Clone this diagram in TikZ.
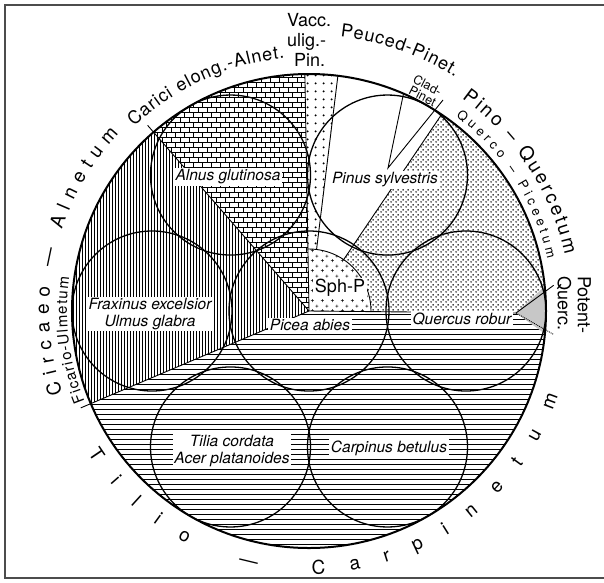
\documentclass[tikz,border=0pt]{standalone}
\usepackage{fontspec}
\setmainfont{TeX Gyre Heros}
\usetikzlibrary{patterns, decorations.text}

% ---- hatchings of the communities ----
\pgfdeclarepatternformonly{hlines}{\pgfqpoint{-1pt}{-1pt}}{\pgfqpoint{6pt}{6pt}}{\pgfqpoint{5pt}{5pt}}{%
  \pgfsetlinewidth{0.7pt}%
  \pgfpathmoveto{\pgfqpoint{-1pt}{2.5pt}}\pgfpathlineto{\pgfqpoint{6pt}{2.5pt}}%
  \pgfusepath{stroke}}
\pgfdeclarepatternformonly{vlines}{\pgfqpoint{-1pt}{-1pt}}{\pgfqpoint{4pt}{4pt}}{\pgfqpoint{3pt}{3pt}}{%
  \pgfsetlinewidth{0.4pt}%
  \pgfpathmoveto{\pgfqpoint{1.5pt}{-1pt}}\pgfpathlineto{\pgfqpoint{1.5pt}{4pt}}%
  \pgfusepath{stroke}}
\pgfdeclarepatternformonly{brickwall}{\pgfqpoint{-1pt}{-1pt}}{\pgfqpoint{10pt}{11pt}}{\pgfqpoint{9pt}{10pt}}{%
  \pgfsetlinewidth{0.5pt}%
  \pgfpathmoveto{\pgfqpoint{-1pt}{0pt}}\pgfpathlineto{\pgfqpoint{10pt}{0pt}}%
  \pgfpathmoveto{\pgfqpoint{-1pt}{5pt}}\pgfpathlineto{\pgfqpoint{10pt}{5pt}}%
  \pgfpathmoveto{\pgfqpoint{0pt}{0pt}}\pgfpathlineto{\pgfqpoint{0pt}{5pt}}%
  \pgfpathmoveto{\pgfqpoint{4.5pt}{5pt}}\pgfpathlineto{\pgfqpoint{4.5pt}{10pt}}%
  \pgfusepath{stroke}}
\pgfdeclarepatternformonly{bigdots}{\pgfqpoint{0pt}{0pt}}{\pgfqpoint{8pt}{8pt}}{\pgfqpoint{8pt}{8pt}}{%
  \pgfpathcircle{\pgfqpoint{4pt}{4pt}}{1.2pt}\pgfusepath{fill}}
\pgfdeclarepatternformonly{finedots}{\pgfqpoint{0pt}{0pt}}{\pgfqpoint{5pt}{5pt}}{\pgfqpoint{5pt}{5pt}}{%
  \pgfpathcircle{\pgfqpoint{1.25pt}{1.25pt}}{0.95pt}%
  \pgfpathcircle{\pgfqpoint{3.75pt}{3.75pt}}{0.95pt}\pgfusepath{fill}}
\pgfdeclarepatternformonly{pluses}{\pgfqpoint{0pt}{0pt}}{\pgfqpoint{10pt}{10pt}}{\pgfqpoint{10pt}{10pt}}{%
  \pgfsetlinewidth{0.6pt}%
  \pgfpathmoveto{\pgfqpoint{0.9pt}{2.5pt}}\pgfpathlineto{\pgfqpoint{4.1pt}{2.5pt}}%
  \pgfpathmoveto{\pgfqpoint{2.5pt}{0.9pt}}\pgfpathlineto{\pgfqpoint{2.5pt}{4.1pt}}%
  \pgfpathmoveto{\pgfqpoint{5.9pt}{7.5pt}}\pgfpathlineto{\pgfqpoint{9.1pt}{7.5pt}}%
  \pgfpathmoveto{\pgfqpoint{7.5pt}{5.9pt}}\pgfpathlineto{\pgfqpoint{7.5pt}{9.1pt}}%
  \pgfusepath{stroke}}

\newcommand{\arctag}{\fontsize{19}{22}\selectfont}
\newcommand{\arcmid}{\fontsize{18}{21}\selectfont}
\newcommand{\arcsmall}{\fontsize{13}{15}\selectfont}

\tikzset{
  ring/.style={line width=1.3pt},
  border/.style={line width=2pt},
  divide/.style={line width=0.9pt},
  frame/.style={line width=1.4pt, black!70},
  spec/.style={font=\fontsize{15.5}{17}\selectfont\itshape, fill=white,
    inner sep=1.5pt, align=center},
  tag/.style={font=\fontsize{18}{20}\selectfont, inner sep=0pt},
  smalltag/.style={font=\fontsize{12.5}{12}\selectfont, inner sep=0pt},
  ontrack/.style={decorate, decoration={text along path,
    text align=fit to path, text={#1}}},
}

\begin{document}
\begin{tikzpicture}[x=1pt, y=1pt]
  \def\Rout{237pt}   % outer ring
  \def\Rin{80pt}     % stand circles
  \def\Dist{157pt}   % centre to stand centre
  \def\Rsph{62pt}    % Sph-P core
  \useasboundingbox (-309,-271) rectangle (295,311);

  % ---- frame ----
  \draw[frame] (295,306) -- (-304,306) -- (-304,-267) -- (295,-267);

  % ---- hatched sectors ----
  \fill[pattern=vlines] (0,0) -- (131:\Rout)
    arc[start angle=131, end angle=203, radius=\Rout] -- cycle;
  \fill[pattern=brickwall] (0,0) -- (91:\Rout)
    arc[start angle=91, end angle=131, radius=\Rout] -- cycle;
  \fill[pattern=bigdots] (91:\Rsph) -- (91:\Rout)
    arc[start angle=91, end angle=83, radius=\Rout] -- (83:\Rsph)
    arc[start angle=83, end angle=91, radius=\Rsph] -- cycle;
  \fill[pattern=finedots] (0:\Rsph) -- (0:\Rout)
    arc[start angle=0, end angle=56, radius=\Rout] -- (56:\Rsph)
    arc[start angle=56, end angle=0, radius=\Rsph] -- cycle;
  \fill[pattern=hlines] (0,0) -- (203:\Rout)
    arc[start angle=203, end angle=360, radius=\Rout] -- cycle;
  \fill[pattern=pluses] (0,0) -- (0:\Rsph)
    arc[start angle=0, end angle=91, radius=\Rsph] -- cycle;
  \coordinate (tip) at (207,-2);
  \fill[black!22] (tip) -- (6:\Rout)
    arc[start angle=6, end angle=-5.5, radius=\Rout] -- cycle;

  % ---- boundaries ----
  \coordinate (apex) at (79,143);
  \draw[divide] (0,0) -- (131:246pt);
  \draw[divide] (0,0) -- (203:248pt);
  \draw[divide] (0,0) -- (91:\Rout);
  \draw[divide] (83:\Rsph) -- (83:\Rout);
  \draw[divide] (56:\Rsph) -- (56:\Rout);
  \draw[divide] (0,0) -- (tip) -- (6:246pt);
  \draw[divide, densely dotted] (tip) -- (-5.5:246pt);
  \draw[divide] (0:\Rsph) arc[start angle=0, end angle=91, radius=\Rsph];
  \draw[divide] (66.5:\Rout) -- (apex) -- (134,211);

  % ---- stand circles ----
  \draw[ring] (0,0) circle[radius=\Rin];
  \foreach \ang in {0,60,...,300}
    \draw[ring] (\ang:\Dist) circle[radius=\Rin];
  \draw[border] (0,0) circle[radius=\Rout];

  % ---- tree species ----
  \node[spec] (alnus) at (-81,134) {Alnus glutinosa};
  \node[spec] (pinus) at (76,131) {Pinus sylvestris};
  \node[spec] (fraxinus) at (-159,-3) {Fraxinus excelsior\\Ulmus glabra};
  \node[spec] (picea) at (1,-14) {Picea abies};
  \node[spec] (quercus) at (153,-8) {Quercus robur};
  \node[spec] (tilia) at (-77,-140) {Tilia cordata\\Acer platanoides};
  \node[spec] (carpinus) at (80,-137) {Carpinus betulus};
  \node[tag, fill=white, inner sep=1.5pt] (sphp) at (31,23) {Sph-P};

  % ---- communities round the ring ----
  \path[ontrack={|\arctag|Circaeo — Alnetum}]
    (198.5:260pt) arc[start angle=198.5, end angle=137, radius=260pt];
  \path[ontrack={|\arcmid|Carici elong.-Alnet.}]
    (133.5:254pt) arc[start angle=133.5, end angle=95.5, radius=254pt];
  \path[ontrack={|\arcmid|Peuced-Pinet.}]
    (83.5:276pt) arc[start angle=83.5, end angle=58, radius=276pt];
  \path[ontrack={|\arctag|Pino – Quercetum}]
    (54.3:262pt) arc[start angle=54.3, end angle=12.4, radius=262pt];
  \path[ontrack={|\arcsmall|Querco – Piceetum}]
    (53:244pt) arc[start angle=53, end angle=12.3, radius=244pt];
  \path[ontrack={|\arctag|Tilio — Carpinetum}]
    (212.8:263pt) arc[start angle=212.8, end angle=341.3, radius=263pt];
  \path[ontrack={|\fontsize{15}{16}\selectfont|Ficario-Ulmetum}]
    (202:242pt) arc[start angle=202, end angle=172, radius=242pt];

  \node[tag, align=left, anchor=west] (vacc) at (-22,271)
    {Vacc.\\ulig.-\\\hspace*{7pt}Pin.};
  \node[tag, rotate=-90, align=left] (potent) at (265,6) {Potent-\\Querc.};
  \node[smalltag, rotate=-27, align=right] (clad) at (62.3:249pt) {Clad-\\Pinet};
\end{tikzpicture}
\end{document}
